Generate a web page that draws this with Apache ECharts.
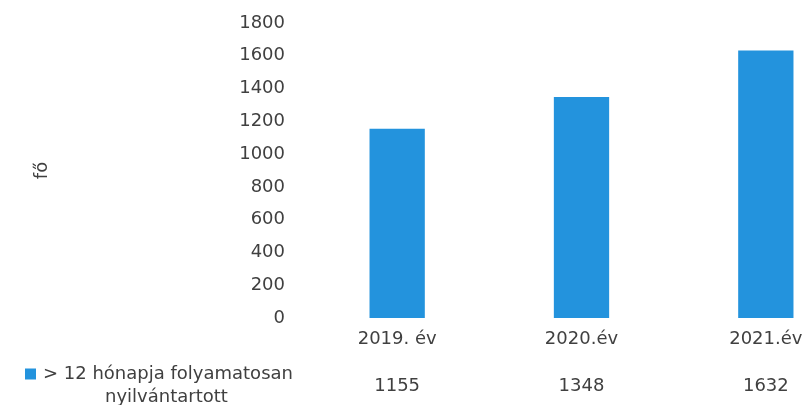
<!DOCTYPE html>
<html><head><meta charset="utf-8">
<script src="https://cdn.jsdelivr.net/npm/echarts@6/dist/echarts.min.js"></script>
<style>html,body{margin:0;padding:0;background:#fff}#c{width:806px;height:405px}</style>
</head><body><div id="c"></div>
<script>
const categories = ['2019. év', '2020.év', '2021.év'];
const legendLines = ['> 12 hónapja folyamatosan', 'nyilvántartott'];
const seriesName = legendLines.join(' ');
const values = [1155, 1348, 1632];
const yTicks = {min: 0, max: 1800, interval: 200};
const yName = 'fő';

const FONT = 'DejaVu Sans';
const COL = '#404040';
const chart = echarts.init(document.getElementById('c'), null, {renderer: 'canvas'});
chart.setOption({
  animation: false,
  textStyle: {fontFamily: FONT},
  grid: {left: 305, width: 553, top: 23, bottom: 87, containLabel: false, outerBoundsMode: 'none'},
  legend: {
    left: 25, top: 365, itemWidth: 11, itemHeight: 11, icon: 'rect', itemGap: 4, padding: 0,
    data: [seriesName],
    formatter: () => legendLines[0],
    textStyle: {color: COL, fontSize: 18, fontFamily: FONT, padding: [0, 0, 0, 2]}
  },
  graphic: [{
    type: 'text', left: 105, top: 388,
    style: {text: legendLines[1], fill: COL, font: '18px "DejaVu Sans"'}
  }],
  xAxis: [{
    type: 'category', data: categories,
    axisLine: {show: false}, axisTick: {show: false},
    axisLabel: {color: COL, fontSize: 18, fontFamily: FONT, margin: 12}
  }, {
    type: 'category', data: values.map(String), position: 'bottom', offset: 51,
    axisLine: {show: false}, axisTick: {show: false},
    axisLabel: {color: COL, fontSize: 18, fontFamily: FONT}
  }],
  yAxis: {
    type: 'value', min: yTicks.min, max: yTicks.max, interval: yTicks.interval,
    name: yName, nameLocation: 'middle', nameGap: 254, nameRotate: 90,
    nameTextStyle: {color: COL, fontSize: 18, fontFamily: FONT},
    axisLine: {show: false}, axisTick: {show: false}, splitLine: {show: false},
    axisLabel: {color: COL, fontSize: 18, fontFamily: FONT, margin: 20, formatter: v => String(v)}
  },
  series: [{
    name: seriesName, type: 'bar', data: values, barWidth: '30%',
    itemStyle: {color: '#2393dd'}
  }]
});
</script></body></html>
